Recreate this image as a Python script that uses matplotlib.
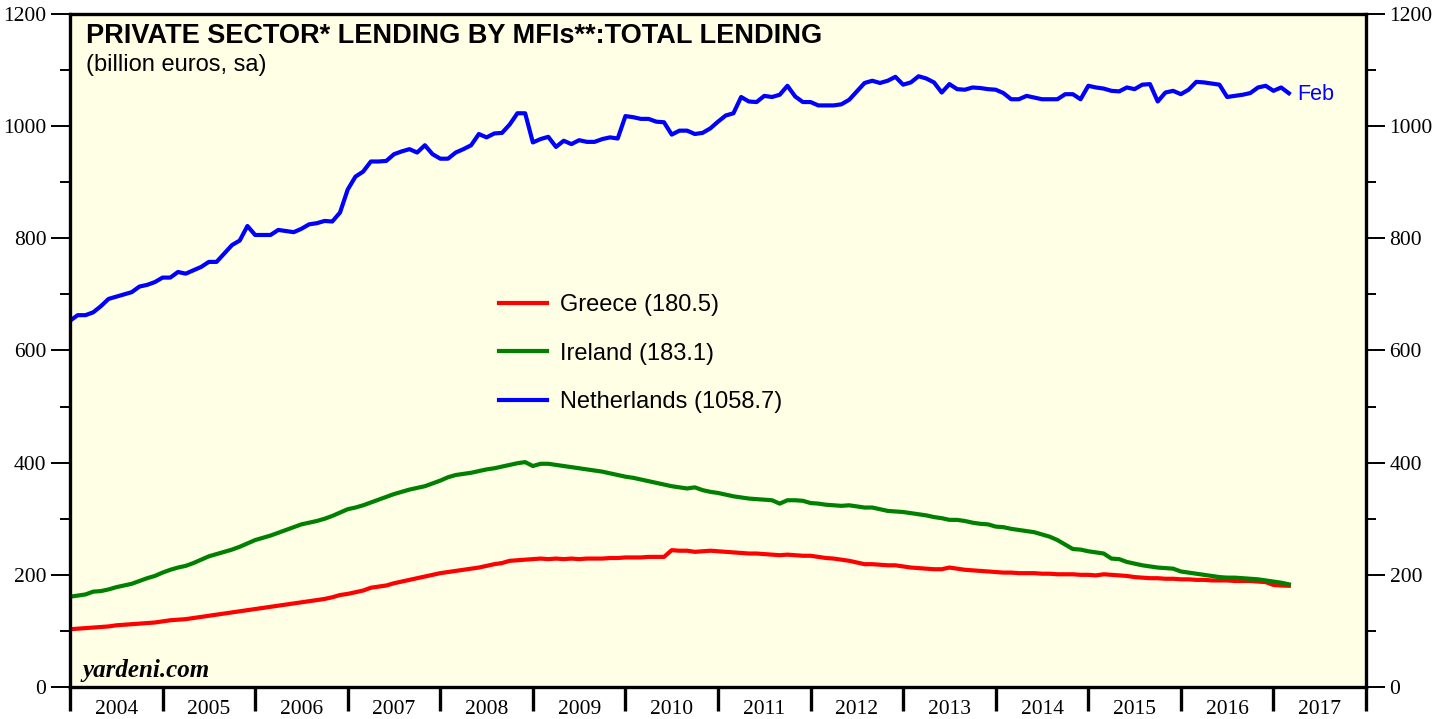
import matplotlib
matplotlib.use("Agg")
import matplotlib.pyplot as plt
import numpy as np

# Monthly data, Jan 2004 .. Feb 2017 (billion euros, sa)
start_year = 2004
greece = [
    103, 104, 105, 106, 107, 108, 110, 111, 112, 113, 114, 115,
    117, 119, 120, 121, 123, 125, 127, 129, 131, 133, 135, 137,
    139, 141, 143, 145, 147, 149, 151, 153, 155, 157, 160, 164,
    166, 169, 172, 177, 179, 181, 185, 188, 191, 194, 197, 200,
    203, 205, 207, 209, 211, 213, 216, 219, 221, 225, 226, 227,
    228, 229, 228, 229, 228, 229, 228, 229, 229, 229, 230, 230,
    231, 231, 231, 232, 232, 232, 244, 243, 243, 241, 242, 243,
    242, 241, 240, 239, 238, 238, 237, 236, 235, 236, 235, 234,
    234, 232, 230, 229, 227, 225, 222, 219, 219, 218, 217, 217,
    215, 213, 212, 211, 210, 210, 213, 211, 209, 208, 207, 206,
    205, 204, 204, 203, 203, 203, 202, 202, 201, 201, 201, 200,
    200, 199, 201, 200, 199, 198, 196, 195, 194, 194, 193, 193,
    192, 192, 191, 191, 190, 190, 190, 189, 189, 189, 188, 187,
    182, 181, 180.5,
]
ireland = [
    161, 163, 165, 170, 171, 174, 178, 181, 184, 189, 194, 198,
    204, 209, 213, 216, 221, 227, 233, 237, 241, 245, 250, 256,
    262, 266, 270, 275, 280, 285, 290, 293, 296, 300, 305, 311,
    317, 320, 324, 329, 334, 339, 344, 348, 352, 355, 358, 363,
    368, 374, 378, 380, 382, 385, 388, 390, 393, 396, 399, 401,
    394, 398, 398, 396, 394, 392, 390, 388, 386, 384, 381, 378,
    375, 373, 370, 367, 364, 361, 358, 356, 354, 356, 351, 348,
    346, 343, 340, 338, 336, 335, 334, 333, 327, 333, 333, 332,
    328, 327, 325, 324, 323, 324, 322, 320, 320, 317, 314, 313,
    312, 310, 308, 306, 303, 301, 298, 298, 296, 293, 291, 290,
    286, 285, 282, 280, 278, 276, 272, 268, 262, 254, 246, 245,
    242, 240, 238, 229, 228, 223, 220, 217, 215, 213, 212, 211,
    206, 204, 202, 200, 198, 196, 195, 195, 194, 193, 192, 190,
    188, 186, 183.1,
]
netherlands = [
    653, 663, 663, 668, 679, 692, 696, 700, 704, 714, 717, 722,
    730, 730, 740, 737, 743, 749, 758, 758, 773, 788, 796, 822,
    806, 806, 806, 815, 813, 811, 817, 825, 827, 831, 830, 846,
    887, 910, 919, 937, 937, 938, 950, 955, 959, 953, 966, 950,
    942, 942, 953, 959, 966, 986, 980, 987, 988, 1003, 1023, 1023,
    971, 977, 981, 963, 974, 968, 975, 972, 972, 977, 980, 978,
    1018, 1016, 1013, 1013, 1008, 1007, 985, 992, 992, 986, 988, 996,
    1008, 1019, 1023, 1052, 1044, 1043, 1054, 1052, 1056, 1072, 1053, 1043,
    1043, 1037, 1037, 1037, 1039, 1047, 1062, 1077, 1081, 1077, 1081, 1088,
    1074, 1078, 1089, 1085, 1078, 1060, 1075, 1066, 1065, 1069, 1068, 1066,
    1065, 1059, 1048, 1048, 1054, 1051, 1048, 1048, 1048, 1057, 1057, 1048,
    1072, 1069, 1067, 1063, 1062, 1069, 1066, 1074, 1075, 1044, 1060, 1063,
    1057, 1065, 1079, 1078, 1076, 1074, 1052, 1054, 1056, 1059, 1069, 1072,
    1063, 1069, 1058.7,
]
series_labels = ["Greece (180.5)", "Ireland (183.1)", "Netherlands (1058.7)"]
series_colors = ["#FF0000", "#008000", "#0000FF"]
year_labels = [str(y) for y in range(2004, 2018)]
y_ticks = list(range(0, 1201, 200))

n = len(netherlands)
x = start_year + np.arange(n) / 12.0

fig = plt.figure(figsize=(14.48, 7.19), dpi=100)
ax = fig.add_axes([70/1448, 32/719, 1296/1448, 673/719])
ax.set_facecolor("#FFFFE6")

for data, lab, col in zip([greece, ireland, netherlands], series_labels, series_colors):
    ax.plot(x, data, color=col, lw=3.0, label=lab, solid_joinstyle="round")

ax.set_xlim(2004, 2018)
ax.set_ylim(0, 1200)

for s in ax.spines.values():
    s.set_linewidth(2.4)
    s.set_color("black")

serif = ["Liberation Serif", "DejaVu Serif"]
sans = ["Liberation Sans", "DejaVu Sans"]

ax.set_yticks(y_ticks)
ax.set_yticks(range(100, 1200, 200), minor=True)
ax.set_yticklabels([str(v) for v in y_ticks], fontfamily=serif, fontsize=15.5)
ax.tick_params(axis="y", which="major", direction="out", length=14, width=1.4,
               left=True, right=True, labelleft=True, labelright=True, pad=3)
ax.tick_params(axis="y", which="minor", direction="out", length=7, width=1.4,
               left=True, right=True)

years = np.arange(2004, 2019)
ax.set_xticks(years)
ax.set_xticklabels([""] * len(years))
ax.set_xticks(years[:-1] + 0.5, minor=True)
ax.set_xticklabels(year_labels, minor=True, fontfamily=serif, fontsize=15.5)
ax.tick_params(axis="x", which="major", direction="out", length=17, width=2.4, bottom=True, top=False)
ax.tick_params(axis="x", which="minor", length=0, pad=9)

ax.text(16/1296, 1 - 9/673, "PRIVATE SECTOR* LENDING BY MFIs**:TOTAL LENDING",
        transform=ax.transAxes, fontfamily=sans, fontweight="bold", fontsize=19.5,
        va="top", ha="left")
ax.text(16/1296, 1 - 40/673, "(billion euros, sa)", transform=ax.transAxes,
        fontfamily=sans, fontsize=17, va="top", ha="left")
ax.text(12/1296, 17/673, "yardeni.com", transform=ax.transAxes,
        fontfamily=serif, fontweight="bold", fontstyle="italic", fontsize=18,
        va="center", ha="left")
ax.annotate("Feb", xy=(x[-1], netherlands[-1]), xytext=(6, -1), textcoords="offset points",
            color="#0000FF", fontfamily=sans, fontsize=15.5, va="center", ha="left")

leg = ax.legend(loc="upper left", bbox_to_anchor=((499-70)/1296, (687-294)/673),
                frameon=False, prop={"family": sans, "size": 17},
                handlelength=2.05, handletextpad=0.55, labelspacing=1.13,
                borderpad=0, borderaxespad=0)

fig.savefig("out.png", dpi=100)
